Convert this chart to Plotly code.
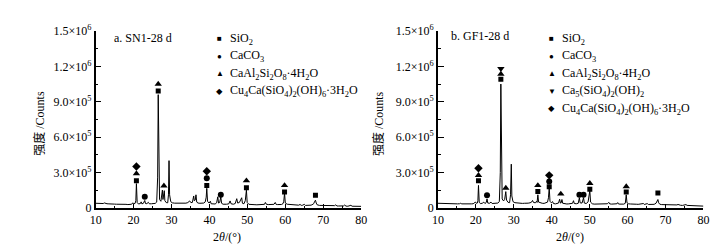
import plotly.graph_objects as go

W, H = 727, 250

# ---------------- data (2theta in degrees, intensity in thousand counts) ----------------
sn1_theta = [10.0, 10.5, 11.0, 11.5, 12.0, 12.3, 12.6, 13.0, 13.5, 14.0, 14.5, 15.0, 15.5, 16.0, 16.5,
             17.0, 17.5, 18.0, 18.5, 19.0, 19.5, 19.8, 20.0, 20.4, 20.6, 20.75, 20.95, 21.3, 21.8, 22.0,
             22.2, 22.6, 22.8, 22.95, 23.15, 23.5, 23.9, 24.2, 24.7, 25.2, 25.7, 26.1, 26.35, 26.5, 26.65,
             26.85, 27.2, 27.45, 27.6, 27.75, 27.95, 28.1, 28.25, 28.6, 29.0, 29.2, 29.35, 29.5, 29.8, 30.2,
             30.8, 31.3, 31.8, 32.3, 32.8, 33.3, 33.8, 34.3, 34.8, 35.1, 35.5, 35.85, 36.0, 36.25, 36.45,
             36.65, 37.0, 37.5, 38.0, 38.5, 38.9, 39.15, 39.3, 39.5, 39.9, 40.25, 40.45, 41.0, 41.5, 41.9,
             42.2, 42.4, 42.7, 43.0, 43.2, 43.6, 44.0, 44.5, 45.1, 45.45, 45.7, 46.3, 46.8, 47.2, 47.45,
             47.9, 48.5, 48.7, 49.1, 49.45, 49.75, 49.95, 50.4, 51.0, 51.5, 52.0, 52.5, 53.0, 53.5, 54.0,
             54.5, 54.75, 55.0, 55.5, 56.0, 56.5, 57.0, 57.35, 57.6, 58.0, 58.5, 59.0, 59.4, 59.6, 59.8,
             60.0, 60.5, 61.0, 61.5, 62.0, 62.5, 63.0, 63.5, 63.9, 64.2, 64.6, 65.0, 65.3, 65.8, 66.3,
             66.8, 67.3, 67.5, 67.75, 67.95, 68.15, 68.4, 69.0, 69.5, 70.0, 70.5, 71.0, 71.5, 72.0, 72.5,
             73.0, 73.3, 73.6, 74.0, 74.5, 75.0, 75.4, 75.65, 76.0, 76.5, 77.0, 77.3, 77.6, 78.0, 78.5,
             79.0, 79.5, 80.0]
sn1_kcounts = [38, 36, 37, 35, 36, 41, 35, 34, 33, 34, 32, 31, 30, 31, 30,
               29, 28, 29, 27, 28, 30, 42, 33, 37, 60, 205, 45, 32, 36, 50,
               33, 38, 48, 62, 36, 35, 46, 33, 34, 33, 37, 48, 260, 960, 300,
               70, 55, 95, 150, 70, 120, 145, 60, 44, 42, 110, 400, 110, 52, 42,
               39, 38, 37, 36, 38, 36, 39, 44, 58, 44, 45, 100, 60, 65, 110,
               48, 40, 38, 36, 40, 50, 90, 165, 55, 40, 55, 34, 30, 32, 42,
               93, 40, 45, 93, 38, 30, 28, 30, 33, 58, 34, 30, 36, 77, 40,
               45, 85, 38, 34, 60, 150, 45, 29, 26, 27, 26, 25, 26, 25, 25,
               29, 45, 30, 27, 28, 26, 29, 45, 28, 27, 25, 28, 35, 55, 125,
               40, 30, 28, 27, 25, 24, 23, 22, 28, 20, 22, 29, 20, 21, 20,
               22, 30, 35, 55, 64, 40, 25, 20, 19, 18, 18, 17, 16, 17, 16,
               18, 25, 15, 15, 14, 15, 16, 23, 14, 13, 16, 21, 13, 12, 12,
               13, 11, 12]

gf1_theta = [10.0, 10.5, 11.0, 11.5, 12.0, 12.4, 12.7, 13.2, 13.7, 14.2, 14.7, 15.2, 15.7, 16.0, 16.3,
             16.8, 17.3, 17.8, 18.3, 18.8, 19.3, 19.7, 19.9, 20.1, 20.4, 20.55, 20.7, 20.9, 21.3, 21.8,
             22.1, 22.4, 22.75, 22.95, 23.15, 23.6, 24.0, 24.3, 24.8, 25.3, 25.8, 26.2, 26.45, 26.6, 26.75,
             26.95, 27.3, 27.6, 27.9, 28.1, 28.5, 28.9, 29.15, 29.35, 29.5, 29.8, 30.3, 30.8, 31.3, 31.8,
             32.3, 32.8, 33.3, 33.8, 34.3, 34.7, 34.95, 35.2, 35.7, 36.0, 36.15, 36.35, 36.55, 37.0, 37.5,
             38.0, 38.5, 38.9, 39.15, 39.35, 39.55, 39.9, 40.25, 40.45, 41.0, 41.5, 41.8, 42.1, 42.3, 42.5,
             42.7, 42.9, 43.4, 44.0, 44.5, 45.0, 45.5, 45.75, 45.95, 46.5, 47.0, 47.3, 47.5, 48.0, 48.4,
             48.6, 49.1, 49.6, 50.05, 50.25, 50.7, 51.2, 51.7, 52.2, 52.7, 53.2, 53.7, 54.2, 54.7, 55.05,
             55.3, 55.8, 56.3, 56.8, 57.2, 57.4, 57.6, 58.0, 58.5, 59.0, 59.4, 59.65, 59.85, 60.3, 60.8,
             61.3, 61.8, 62.3, 62.8, 63.3, 63.8, 64.2, 64.4, 64.9, 65.2, 65.5, 66.0, 66.5, 67.0, 67.5,
             67.8, 68.0, 68.2, 68.5, 69.0, 69.5, 70.0, 70.5, 71.0, 71.5, 72.0, 72.5, 73.0, 73.3, 73.6,
             74.0, 74.5, 75.0, 75.4, 75.7, 76.2, 76.7, 77.2, 77.7, 78.2, 78.7, 79.2, 79.6, 80.0]
gf1_kcounts = [38, 37, 36, 37, 35, 39, 35, 34, 35, 33, 34, 33, 34, 38, 33,
               32, 33, 34, 32, 33, 34, 40, 48, 38, 40, 60, 190, 45, 35, 40,
               48, 36, 45, 75, 40, 38, 48, 36, 37, 36, 40, 52, 300, 1050, 320,
               75, 58, 70, 137, 65, 46, 43, 110, 370, 100, 52, 43, 40, 39, 38,
               37, 38, 37, 39, 42, 48, 62, 45, 42, 55, 45, 110, 48, 40, 38,
               37, 40, 48, 85, 170, 55, 42, 52, 36, 33, 34, 40, 72, 40, 42,
               70, 38, 33, 32, 33, 34, 38, 60, 36, 34, 38, 85, 42, 40, 85,
               40, 36, 50, 145, 48, 34, 31, 32, 31, 30, 31, 30, 31, 34, 46,
               33, 31, 32, 31, 34, 44, 32, 31, 30, 31, 38, 110, 42, 33, 32,
               33, 31, 30, 29, 30, 29, 36, 28, 30, 35, 28, 28, 27, 29, 38,
               55, 70, 42, 30, 27, 26, 25, 24, 24, 23, 22, 23, 24, 28, 22,
               21, 20, 21, 27, 20, 19, 18, 20, 17, 16, 16, 15, 16, 14]

# phase identification markers (2theta, thousand counts)
sn1_sio2_theta = [20.75, 26.5, 39.3, 49.75, 59.8, 67.95]
sn1_sio2_k = [230, 990, 190, 170, 133, 106]
sn1_caco3_theta = [22.95, 39.3, 43.0]
sn1_caco3_k = [93, 250, 110]
sn1_caal_theta = [20.75, 26.5, 28.0, 49.75, 59.8]
sn1_caal_k = [290, 1050, 186, 230, 190]
sn1_cu_theta = [20.75, 39.3]
sn1_cu_k = [351, 310]

gf1_sio2_theta = [20.7, 26.6, 36.35, 39.35, 50.05, 59.65, 68.0]
gf1_sio2_k = [230, 1090, 137, 178, 158, 133, 125]
gf1_caco3_theta = [22.95, 39.35, 47.3, 48.4]
gf1_caco3_k = [106, 222, 110, 110]
gf1_caal_theta = [20.7, 26.6, 27.9, 36.35, 42.4, 50.05, 59.65]
gf1_caal_k = [275, 1135, 167, 190, 117, 208, 180]
gf1_ca5_theta = [26.6]
gf1_ca5_k = [1180]
gf1_cu_theta = [20.7, 39.35]
gf1_cu_k = [336, 275]

y_tickvals = [0, 300000, 600000, 900000, 1200000, 1500000]
y_ticktext = ["0", "3.0×10<sup>5</sup>", "6.0×10<sup>5</sup>", "9.0×10<sup>5</sup>",
              "1.2×10<sup>6</sup>", "1.5×10<sup>6</sup>"]
x_tickvals = [10, 20, 30, 40, 50, 60, 70, 80]

panel_titles = ["a. SN1-28 d", "b. GF1-28 d"]
sn1_legend = ["SiO<sub>2</sub>", "CaCO<sub>3</sub>", "CaAl<sub>2</sub>Si<sub>2</sub>O<sub>8</sub>·4H<sub>2</sub>O",
              "Cu<sub>4</sub>Ca(SiO<sub>4</sub>)<sub>2</sub>(OH)<sub>6</sub>·3H<sub>2</sub>O"]
gf1_legend = ["SiO<sub>2</sub>", "CaCO<sub>3</sub>", "CaAl<sub>2</sub>Si<sub>2</sub>O<sub>8</sub>·4H<sub>2</sub>O",
              "Ca<sub>5</sub>(SiO<sub>4</sub>)<sub>2</sub>(OH)<sub>2</sub>",
              "Cu<sub>4</sub>Ca(SiO<sub>4</sub>)<sub>2</sub>(OH)<sub>6</sub>·3H<sub>2</sub>O"]
y_title = "强度 /Counts"
x_title = "2<i>θ</i>/(°)"

FONT = "Liberation Serif, Times New Roman, Noto Sans CJK SC, serif"
K = 1000

fig = go.Figure()


def k2c(vals):
    return [v * K for v in vals]


# traces
fig.add_trace(go.Scatter(x=sn1_theta, y=k2c(sn1_kcounts), mode="lines",
                         line=dict(color="black", width=1), xaxis="x", yaxis="y", showlegend=False))
fig.add_trace(go.Scatter(x=gf1_theta, y=k2c(gf1_kcounts), mode="lines",
                         line=dict(color="black", width=1), xaxis="x2", yaxis="y2", showlegend=False))

marker_specs = [
    ("x", "y", sn1_sio2_theta, sn1_sio2_k, "square", 5),
    ("x", "y", sn1_caco3_theta, sn1_caco3_k, "circle", 6),
    ("x", "y", sn1_caal_theta, sn1_caal_k, "triangle-up", 6.5),
    ("x", "y", sn1_cu_theta, sn1_cu_k, "diamond", 6.5),
    ("x2", "y2", gf1_sio2_theta, gf1_sio2_k, "square", 5),
    ("x2", "y2", gf1_caco3_theta, gf1_caco3_k, "circle", 6),
    ("x2", "y2", gf1_caal_theta, gf1_caal_k, "triangle-up", 6.5),
    ("x2", "y2", gf1_ca5_theta, gf1_ca5_k, "triangle-down", 6.5),
    ("x2", "y2", gf1_cu_theta, gf1_cu_k, "diamond", 6.5),
]
for xa, ya, xs, ys, sym, sz in marker_specs:
    fig.add_trace(go.Scatter(x=xs, y=k2c(ys), mode="markers", xaxis=xa, yaxis=ya, showlegend=False,
                             marker=dict(symbol=sym, size=sz, color="black", line=dict(width=0))))

# axes
ydom = [(H - 204) / H, (H - 16) / H]
common_x = dict(range=[10, 80], tickvals=x_tickvals, ticks="inside", ticklen=4, tickwidth=1,
                tickcolor="black", showline=True, linecolor="black", linewidth=1.5, showgrid=False,
                zeroline=False, tickfont=dict(family=FONT, size=12, color="black"),
                minor=dict(dtick=5, tick0=10, ticks="inside", ticklen=2.5, tickcolor="black", showgrid=False))
common_y = dict(range=[0, 1500000], tickvals=y_tickvals, ticktext=y_ticktext, ticks="inside", ticklen=6,
                tickwidth=1, tickcolor="black", showline=True, linecolor="black", linewidth=1.5,
                showgrid=False, zeroline=False, tickfont=dict(family=FONT, size=12, color="black"),
                minor=dict(dtick=150000, tick0=0, ticks="inside", ticklen=3, tickcolor="black", showgrid=False),
                domain=ydom)

fig.update_layout(
    width=W, height=H, margin=dict(l=0, r=0, t=0, b=0),
    paper_bgcolor="white", plot_bgcolor="white",
    xaxis=dict(domain=[83 / W, 353 / W], anchor="y", **common_x),
    yaxis=dict(anchor="x", **common_y),
    xaxis2=dict(domain=[431 / W, 701 / W], anchor="y2", **common_x),
    yaxis2=dict(anchor="x2", **common_y),
    showlegend=False,
)

ann = []


def txt(x, y, text, size=12, xanchor="left", angle=0, yanchor="middle"):
    ann.append(dict(x=x / W, y=(H - y) / H, xref="paper", yref="paper", text=text, showarrow=False,
                    xanchor=xanchor, yanchor=yanchor, textangle=angle,
                    font=dict(family=FONT, size=size, color="black")))


# panel titles
txt(100, 23, panel_titles[0])
txt(442, 21, panel_titles[1])

# legend keys
sym_glyphs_sn1 = ["■", "●", "▲", "◆"]
sym_glyphs_gf1 = ["■", "●", "▲", "▼", "◆"]
sym_sizes_sn1 = [8, 8, 8, 6.5]
sym_sizes_gf1 = [8, 8, 8, 8, 6.5]
rows = [24, 43, 61.5, 80, 98.5]
for i, lab in enumerate(sn1_legend):
    txt(209, rows[i], sym_glyphs_sn1[i], size=sym_sizes_sn1[i], xanchor="center")
    txt(218, rows[i], lab)
for i, lab in enumerate(gf1_legend):
    txt(547, rows[i], sym_glyphs_gf1[i], size=sym_sizes_gf1[i], xanchor="center")
    txt(555, rows[i], lab)

# axis titles
txt(26, 114, y_title, xanchor="center", angle=-90)
txt(370, 114, y_title, xanchor="center", angle=-90)
txt(217, 235, x_title, xanchor="center")
txt(565, 235, x_title, xanchor="center")

fig.update_layout(annotations=ann)
fig.write_html("out.html")
